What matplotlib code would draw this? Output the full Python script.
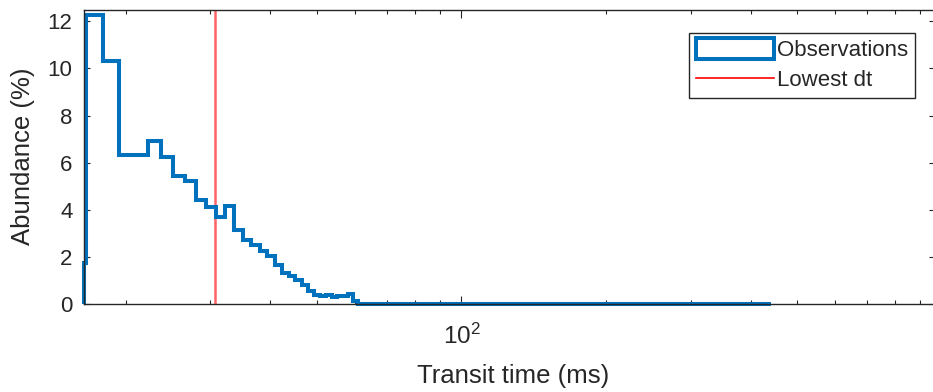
import matplotlib
matplotlib.use("Agg")
import matplotlib.pyplot as plt
import matplotlib.patches as mpatches
from matplotlib.lines import Line2D
from matplotlib.legend_handler import HandlerPatch
from matplotlib.ticker import NullFormatter, LogLocator

# Histogram of transit times (bin edges in ms, abundance in %)
bin_edges = [16.33, 16.52, 17.95, 19.38, 20.81, 22.24, 23.67, 25.10, 26.53, 27.96,
             29.39, 30.82, 32.25, 33.68, 35.11, 36.54, 37.97, 39.40, 40.83, 42.26,
             43.69, 45.12, 46.55, 47.98, 49.41, 50.84, 52.27, 53.70, 55.13, 56.56,
             57.99, 59.42, 60.85, 442.0]
abundance = [1.75, 12.26, 10.31, 6.33, 6.33, 6.93, 6.25, 5.45, 5.24, 4.42,
             4.12, 3.70, 4.16, 3.14, 2.72, 2.50, 2.25, 2.02, 1.65, 1.30,
             1.20, 1.02, 0.81, 0.55, 0.38, 0.34, 0.40, 0.31, 0.36, 0.33,
             0.43, 0.13, 0.0]
lowest_dt = 30.7

x_limits = (16.33, 968.0)
y_limits = (0, 12.5)
y_ticks = [0, 2, 4, 6, 8, 10, 12]

blue = "#0072BD"
ink = "#262626"

plt.rcParams["font.family"] = ["Liberation Sans", "DejaVu Sans"]
plt.rcParams["mathtext.fontset"] = "custom"
plt.rcParams["mathtext.rm"] = "Liberation Sans"
plt.rcParams["mathtext.it"] = "Liberation Sans"

W, H = 933, 392
fig = plt.figure(figsize=(W / 100, H / 100), dpi=100)
left, right, top, bottom = 83.5, 935.0, 9.5, 304.0
ax = fig.add_axes([left / W, 1 - bottom / H, (right - left) / W, (bottom - top) / H])

ax.stairs(abundance, bin_edges, color=blue, linewidth=2.9, clip_on=False, zorder=2)
ax.axvline(lowest_dt, color="#ff6464", linewidth=1.8, zorder=1.5)

ax.set_xscale("log")
ax.set_xlim(*x_limits)
ax.set_ylim(*y_limits)
ax.set_yticks(y_ticks)
ax.xaxis.set_minor_locator(LogLocator(base=10, subs=range(2, 10)))
ax.xaxis.set_minor_formatter(NullFormatter())

for s in ax.spines.values():
    s.set_color(ink)
    s.set_linewidth(1.0)
    s.set_zorder(3)

ax.tick_params(which="both", direction="in", top=True, right=True, colors=ink,
               labelsize=16, width=0.8)
ax.tick_params(axis="x", which="major", length=5.5, pad=14, labelsize=17.5)
ax.tick_params(axis="x", which="minor", length=3)
ax.tick_params(axis="y", which="major", length=4, pad=8)

ax.set_xlabel("Transit time (ms)", fontsize=18.5, color=ink)
ax.set_ylabel("Abundance (%)", fontsize=18.5, color=ink)
ax.xaxis.set_label_coords(0.504, -0.205)
ax.yaxis.set_label_coords(-0.057, 0.5025)


def stairs_box(legend, orig_handle, xdescent, ydescent, width, height, fontsize):
    # outlined box for the histogram entry, centred in its row
    h = 15.5
    return mpatches.Rectangle((-xdescent, -ydescent + (height - h) / 2), width, h)


handles = [
    mpatches.Rectangle((0, 0), 1, 1, facecolor="white", edgecolor=blue, linewidth=2.9),
    Line2D([0], [0], color="red", linewidth=1.2),
]
leg = ax.legend(handles, ["Observations", "Lowest dt"], loc="upper right",
                bbox_to_anchor=(915 / W, 1 - 32.7 / H), bbox_transform=fig.transFigure,
                borderaxespad=0, fontsize=16, frameon=True, fancybox=False,
                framealpha=1, edgecolor=ink, handlelength=3.5, handleheight=0.9,
                handletextpad=0.15, labelspacing=0.37, borderpad=0.3,
                handler_map={mpatches.Rectangle: HandlerPatch(patch_func=stairs_box)})
leg.get_frame().set_linewidth(1.0)
for t in leg.get_texts():
    t.set_color(ink)

fig.savefig("out.png", dpi=100)
